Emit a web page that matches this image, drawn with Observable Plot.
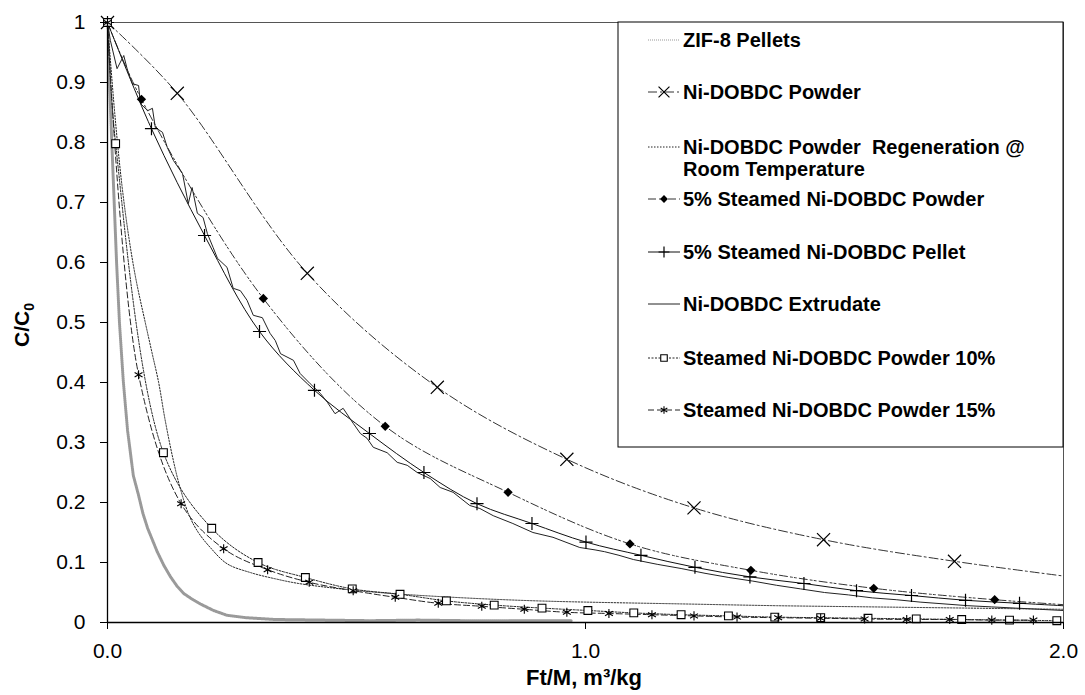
<!DOCTYPE html>
<html><head><meta charset="utf-8">
<script src="https://cdn.jsdelivr.net/npm/d3@7"></script>
<script src="https://cdn.jsdelivr.net/npm/@observablehq/plot@0.6"></script>
<style>
html,body{margin:0;padding:0;background:#fff;}
#chart{width:1085px;height:695px;}
</style></head><body><div id="chart"></div>
<script>
// ---- data ----
const seriesNames = [
  "ZIF-8 Pellets",
  "Ni-DOBDC Powder",
  "Ni-DOBDC Powder  Regeneration @ Room Temperature",
  "5% Steamed Ni-DOBDC Powder",
  "5% Steamed Ni-DOBDC Pellet",
  "Ni-DOBDC Extrudate",
  "Steamed Ni-DOBDC Powder 10%",
  "Steamed Ni-DOBDC Powder 15%"
];
const xTicks = [0, 1, 2];
const yTicks = [0, 0.1, 0.2, 0.3, 0.4, 0.5, 0.6, 0.7, 0.8, 0.9, 1];

const zifX = [0,0.004,0.009,0.014,0.019,0.025,0.033,0.042,0.054,0.065,0.074,0.084,0.104,0.118,0.132,0.146,0.16,0.175,0.194,0.222,0.25,0.29,0.35,0.45,0.55,0.65,0.75,0.85,0.97];
const zifY = [1,0.9,0.8,0.7,0.6,0.5,0.403,0.32,0.245,0.212,0.182,0.157,0.118,0.095,0.076,0.06,0.048,0.04,0.031,0.02,0.012,0.008,0.005,0.004,0.003,0.004,0.003,0.003,0.003];

const powderX = [0,0.146,0.418,0.69,0.961,1.227,1.498,1.772,2.044];
const powderY = [1,0.882,0.582,0.392,0.272,0.191,0.138,0.102,0.073];

const regenX = [0,0.015,0.03,0.045,0.06,0.079,0.093,0.107,0.12,0.135,0.15,0.17,0.19,0.215,0.25,0.3,0.35,0.4,0.5,0.6,0.7,0.8,0.9,1.0,1.2,1.4,1.6,1.8,2.0];
const regenY = [1,0.85,0.73,0.64,0.57,0.5,0.45,0.4,0.34,0.28,0.23,0.18,0.15,0.125,0.098,0.083,0.073,0.065,0.055,0.048,0.043,0.039,0.036,0.034,0.031,0.028,0.026,0.024,0.022];

const steam5X = [0,0.071,0.326,0.581,0.838,1.093,1.346,1.603,1.856,2.11];
const steam5Y = [1,0.872,0.54,0.327,0.217,0.131,0.087,0.057,0.038,0.024];

const pelletX = [0,0.092,0.203,0.318,0.433,0.548,0.662,0.773,0.888,1.001,1.116,1.229,1.344,1.457,1.567,1.682,1.795,1.908,2.02];
const pelletY = [1,0.823,0.645,0.485,0.387,0.315,0.25,0.198,0.165,0.134,0.112,0.092,0.076,0.065,0.053,0.045,0.037,0.032,0.027];

const extrX = [0,0.006,0.02,0.034,0.042,0.052,0.065,0.069,0.084,0.094,0.1,0.115,0.125,0.138,0.157,0.169,0.177,0.188,0.2,0.209,0.221,0.23,0.25,0.263,0.278,0.292,0.305,0.324,0.34,0.351,0.362,0.389,0.403,0.424,0.445,0.46,0.476,0.493,0.514,0.529,0.543,0.556,0.585,0.606,0.627,0.648,0.675,0.696,0.723,0.758,0.779,0.807,0.848,0.89,0.932,0.988,1.02,1.04,1.07,1.1,1.15,1.2,1.25,1.3,1.35,1.4,1.45,1.5,1.55,1.6,1.65,1.7,1.75,1.8,1.85,1.9,1.95,2.0];
const extrY = [1,0.97,0.923,0.945,0.92,0.898,0.895,0.865,0.853,0.857,0.825,0.817,0.792,0.77,0.748,0.698,0.725,0.682,0.675,0.648,0.625,0.607,0.592,0.557,0.553,0.537,0.512,0.508,0.482,0.47,0.448,0.437,0.415,0.398,0.382,0.367,0.348,0.357,0.332,0.315,0.307,0.292,0.283,0.267,0.262,0.25,0.24,0.225,0.217,0.195,0.19,0.178,0.165,0.15,0.142,0.125,0.121,0.118,0.112,0.105,0.097,0.09,0.082,0.075,0.069,0.062,0.056,0.05,0.046,0.041,0.038,0.034,0.031,0.028,0.026,0.024,0.022,0.02];

const p10X = [0,0.017,0.117,0.218,0.315,0.414,0.512,0.612,0.709,0.809,0.909,1.005,1.101,1.2,1.299,1.396,1.492,1.591,1.692,1.787,1.887,1.986];
const p10Y = [1,0.798,0.283,0.157,0.1,0.075,0.056,0.047,0.036,0.029,0.024,0.02,0.016,0.013,0.011,0.009,0.008,0.007,0.006,0.005,0.004,0.003];

const p15X = [0,0.065,0.154,0.243,0.335,0.422,0.514,0.602,0.692,0.783,0.872,0.961,1.049,1.139,1.227,1.317,1.403,1.492,1.584,1.672,1.762,1.85,1.937];
const p15Y = [1,0.413,0.198,0.123,0.088,0.067,0.053,0.042,0.032,0.027,0.022,0.017,0.015,0.013,0.011,0.009,0.008,0.007,0.006,0.005,0.005,0.004,0.004];

// ---- build ----
const rows = (xs, ys) => xs.map((x, i) => ({x, y: ys[i]}));
const zif = rows(zifX, zifY), powder = rows(powderX, powderY), regen = rows(regenX, regenY),
      steam5 = rows(steam5X, steam5Y), pellet = rows(pelletX, pelletY), extr = rows(extrX, extrY),
      p10 = rows(p10X, p10Y), p15 = rows(p15X, p15Y);

const styles = [
  {stroke:"#9a9a9a", strokeWidth:3, dash:"1,1", symbol:null},
  {stroke:"#333", strokeWidth:1, dash:"9,3,2,3", symbol:"times", r:6, fill:"none", sw:1.2},
  {stroke:"#222", strokeWidth:1, dash:"1.5,1.5", symbol:null},
  {stroke:"#333", strokeWidth:1, dash:"8,3,2,2,2,3", symbol:"diamond2", r:4.2, fill:"#000", sw:0},
  {stroke:"#111", strokeWidth:1, dash:null, symbol:"plus", r:4.3, fill:"none", sw:1.2},
  {stroke:"#222", strokeWidth:1, dash:null, symbol:null},
  {stroke:"#222", strokeWidth:1, dash:"2,1.5", symbol:"square", r:4.4, fill:"#fff", sw:1.1},
  {stroke:"#222", strokeWidth:1, dash:"6,3", symbol:"asterisk", r:4.3, fill:"none", sw:1.1}
];
const data = [zif, powder, regen, steam5, pellet, extr, p10, p15];
const curves = ["linear","catmull-rom","catmull-rom","catmull-rom","catmull-rom","linear","catmull-rom","catmull-rom"];

const marks = [Plot.frame({stroke:"#555", strokeWidth:1})];
data.forEach((d, i) => {
  const s = styles[i];
  marks.push(Plot.line(d, {x:"x", y:"y", stroke:s.stroke, strokeWidth:s.strokeWidth, strokeDasharray:s.dash || undefined, curve:curves[i], clip:true}));
});
data.forEach((d, i) => {
  const s = styles[i];
  if (s.symbol) marks.push(Plot.dot(d, {x:"x", y:"y", filter: p => p.x <= 2, symbol:s.symbol, r:s.r, fill:s.fill, stroke: s.sw ? "#000" : "none", strokeWidth:s.sw}));
});
marks.push(
  Plot.axisY({ticks:yTicks, tickFormat:d => String(+d.toFixed(1)), tickSize:7, tickPadding:15, label:null, fontSize:21}),
  Plot.axisX({ticks:xTicks, tickFormat:d => d.toFixed(1), tickSize:7, tickPadding:14, label:null, fontSize:21}),
  Plot.ruleX([0], {stroke:"#000", strokeWidth:1.3}),
  Plot.ruleY([0], {stroke:"#000", strokeWidth:1.3})
);

const chart = Plot.plot({
  width:1085, height:695,
  marginLeft:107, marginRight:22, marginTop:22, marginBottom:73,
  x:{domain:[0,2]},
  y:{domain:[0,1]},
  style:{fontFamily:"'Liberation Sans', Arial, sans-serif", fontSize:"21px", color:"#000", background:"#fff"},
  marks
});
document.getElementById("chart").appendChild(chart);

// ---- titles & legend ----
const svg = d3.select(chart);
const font = "'Liberation Sans', Arial, sans-serif";
svg.append("text").attr("x", 584).attr("y", 685).attr("text-anchor","middle")
  .attr("font-family", font).attr("font-weight","bold").attr("font-size", 22).attr("fill","#000")
  .text("Ft/M, m³/kg");
const yt = svg.append("text").attr("transform","translate(29,325) rotate(-90)").attr("text-anchor","middle")
  .attr("font-family", font).attr("font-weight","bold").attr("font-size", 21).attr("fill","#000");
yt.append("tspan").text("C/C");
yt.append("tspan").attr("font-size", 14).attr("dy", 5).text("0");

const lg = svg.append("g").attr("text-anchor","start");
lg.append("rect").attr("x",618).attr("y",22).attr("width",445).attr("height",425)
  .attr("fill","#fff").attr("stroke","#000").attr("stroke-width",1);
const rowsY = [40, 92, 147, 199, 252, 304, 358, 410];
const labelLines = [["ZIF-8 Pellets"],["Ni-DOBDC Powder"],["Ni-DOBDC Powder  Regeneration @","Room Temperature"],["5% Steamed Ni-DOBDC Powder"],["5% Steamed Ni-DOBDC Pellet"],["Ni-DOBDC Extrudate"],["Steamed Ni-DOBDC Powder 10%"],["Steamed Ni-DOBDC Powder 15%"]];
const symMap = {times:d3.symbolTimes, plus:d3.symbolPlus, diamond2:d3.symbolDiamond2, square:d3.symbolSquare, asterisk:d3.symbolAsterisk};
styles.forEach((s, i) => {
  const cy = rowsY[i];
  lg.append("line").attr("x1",648).attr("x2",680).attr("y1",cy).attr("y2",cy)
    .attr("stroke", s.stroke).attr("stroke-width", i === 0 ? 1.2 : s.strokeWidth).attr("stroke-dasharray", s.dash || null);
  if (s.symbol) {
    lg.append("path").attr("transform",`translate(664,${cy})`)
      .attr("d", d3.symbol(symMap[s.symbol], Math.PI * s.r * s.r * 0.7)())
      .attr("fill", s.fill).attr("stroke", s.sw ? "#000" : "none").attr("stroke-width", s.sw);
  }
  const t = lg.append("text").attr("x",683).attr("y",cy).attr("text-anchor","start")
    .attr("font-family", font).attr("font-weight","bold").attr("font-size",20).attr("fill","#000")
    .style("white-space","pre");
  labelLines[i].forEach((ln, k) => {
    t.append("tspan").attr("x", 683).attr("dy", k === 0 ? "0.36em" : "22px").text(ln);
  });
});
</script></body></html>
